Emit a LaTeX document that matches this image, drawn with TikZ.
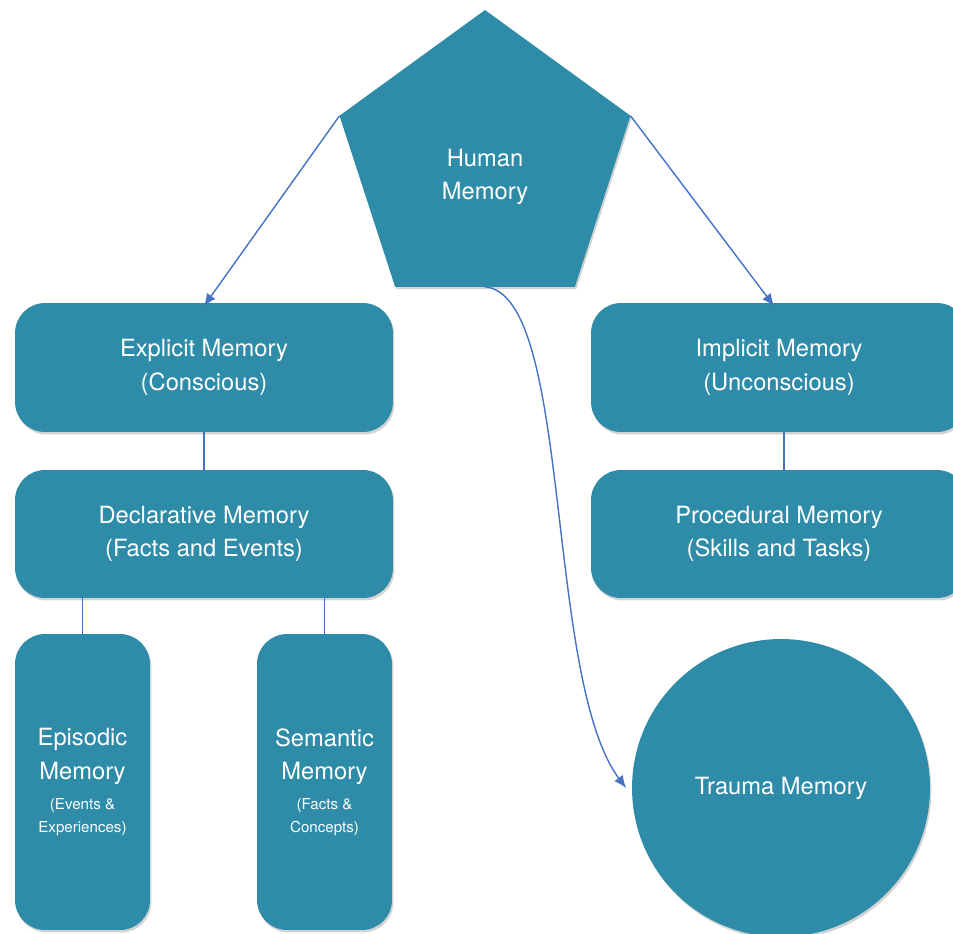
\documentclass[tikz,border=0pt]{standalone}
\usepackage{fontspec}
\setmainfont{TeX Gyre Heros}
\usepackage{xcolor}
\usepackage{tikz}
\usetikzlibrary{shapes.geometric}
\usetikzlibrary{shadows}
\usetikzlibrary{arrows.meta}
\tikzset{>=latex}
\definecolor{memteal}{RGB}{46,140,168}
\definecolor{linkblue}{RGB}{68,114,196}
\tikzstyle{mem} = [fill=memteal, text=white, align=center, inner sep=0pt, outer sep=0pt, drop shadow={shadow xshift=0.8pt, shadow yshift=-1.4pt, opacity=0.35}]
\tikzstyle{membox} = [mem, rectangle, rounded corners=0.6cm, font=\fontsize{13.5}{19}\selectfont]
\tikzstyle{arrow} = [linkblue, line width=0.8pt, -{Latex[length=7pt, width=6pt]}]
\tikzstyle{link} = [linkblue, line width=0.8pt]
\newcommand\subtext[1]{{\fontsize{8.6}{12.5}\selectfont #1}}

\begin{document}
\begin{tikzpicture}[x=0.02cm, y=-0.02cm]
    \useasboundingbox (0,0) rectangle (953,933);
    % top
    \node[mem, regular polygon, regular polygon sides=5, minimum size=6.12cm,
        label={[text=white, align=center, yshift=-0.28cm, font=\fontsize{13.5}{19}\selectfont]center:Human\\Memory}] (human) at (485,163) {};
    % left branch
    \node[membox, minimum width=7.56cm, minimum height=2.58cm] (explicit) at (204,367.5) {Explicit Memory\\(Conscious)};
    \node[membox, minimum width=7.56cm, minimum height=2.56cm] (declarative) at (204,534) {Declarative Memory\\(Facts and Events)};
    \node[membox, minimum width=2.7cm, minimum height=5.92cm] (episodic) at (82.5,782) {Episodic\\Memory\\[-2pt]\subtext{(Events \&}\\[-6pt]\subtext{Experiences)}};
    \node[membox, minimum width=2.7cm, minimum height=5.92cm] (semantic) at (324.5,782) {Semantic\\Memory\\[-2pt]\subtext{(Facts \&}\\[-6pt]\subtext{Concepts)}};
    % right branch
    \node[membox, minimum width=7.52cm, minimum height=2.58cm] (implicit) at (779,367.5) {Implicit Memory\\(Unconscious)};
    \node[membox, minimum width=7.52cm, minimum height=2.56cm] (procedural) at (779,534) {Procedural Memory\\(Skills and Tasks)};
    \node[mem, circle, minimum size=5.96cm, font=\fontsize{13.5}{19}\selectfont] (trauma) at (781,788) {Trauma Memory};

    \draw[arrow] (human.corner 2) -- ([yshift=-0.06cm]explicit.north);
    \draw[arrow] (human.corner 5) -- ([xshift=-0.1cm, yshift=-0.06cm]implicit.north);
    \draw[arrow] (human.south) .. controls +(88,8) and +(-82,-110) .. ([xshift=-0.12cm]trauma.west);
    \draw[link] (explicit) -- (declarative);
    \draw[link] (declarative.south -| episodic) -- (episodic);
    \draw[link] (declarative.south -| semantic) -- (semantic);
    \draw[link] ([xshift=0.1cm]implicit.south) -- ([xshift=0.1cm]procedural.north);
\end{tikzpicture}
\end{document}
